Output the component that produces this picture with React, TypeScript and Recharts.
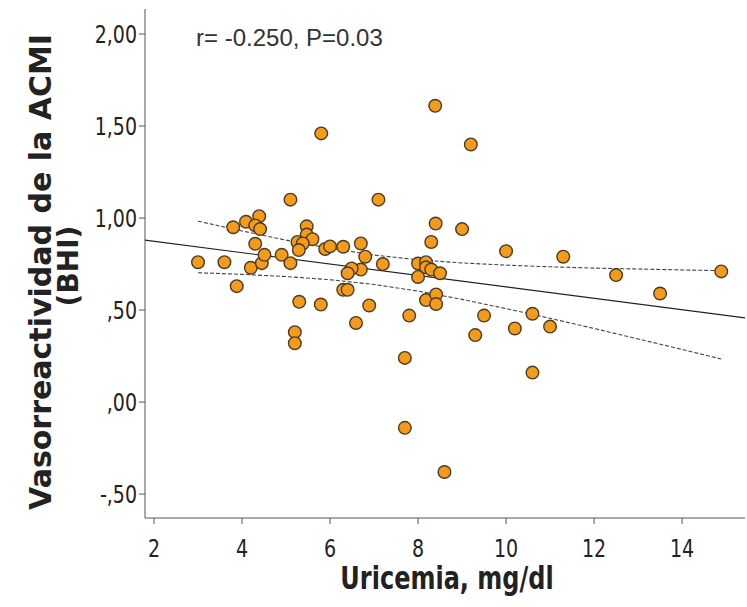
import { ScatterChart, Scatter, XAxis, YAxis } from "recharts";

// Uricemia (mg/dl) vs BHI
const uricemia = [
  3.0, 3.6, 3.88, 3.8, 4.09, 4.39, 4.3, 4.41, 4.3, 4.2, 4.45, 4.51, 4.9, 5.1,
  5.1, 5.47, 5.47, 5.6, 5.26, 5.38, 5.29, 5.3, 5.2, 5.2, 5.8, 5.79, 5.89, 6.0,
  6.3, 6.7, 6.8, 6.7, 6.49, 6.4, 6.3, 6.4, 6.89, 6.59, 7.1, 7.2, 7.8, 7.7, 7.7,
  8.0, 8.0, 8.18, 8.18, 8.3, 8.5, 8.3, 8.4, 8.39, 8.18, 8.41, 8.41, 8.6, 9.0,
  9.2, 9.3, 9.5, 10.0, 10.2, 10.6, 10.6, 11.0, 11.3, 12.5, 13.5, 14.89,
];
const bhi = [
  0.76, 0.76, 0.63, 0.95, 0.98, 1.01, 0.96, 0.94, 0.86, 0.73, 0.755, 0.8, 0.8,
  0.755, 1.1, 0.955, 0.91, 0.885, 0.87, 0.862, 0.826, 0.545, 0.38, 0.32, 1.46,
  0.53, 0.832, 0.846, 0.844, 0.862, 0.79, 0.72, 0.726, 0.7, 0.61, 0.61, 0.525,
  0.43, 1.1, 0.75, 0.47, 0.24, -0.14, 0.753, 0.68, 0.76, 0.732, 0.72, 0.7, 0.87,
  0.97, 1.61, 0.554, 0.585, 0.533, -0.38, 0.94, 1.4, 0.364, 0.47, 0.82, 0.4,
  0.48, 0.16, 0.41, 0.79, 0.69, 0.59, 0.71,
];

// regression line and its 95% band
const fitX = [1.795, 15.43];
const fitY = [0.88, 0.458];
const bandX = [3, 4, 5, 6, 7, 8, 9, 10, 11, 12, 13, 14, 14.89];
const upperBand = [0.983, 0.93, 0.88, 0.835, 0.799, 0.773, 0.756, 0.744, 0.735, 0.728, 0.723, 0.718, 0.714];
const lowerBand = [0.703, 0.694, 0.682, 0.665, 0.639, 0.603, 0.558, 0.508, 0.455, 0.4, 0.343, 0.286, 0.234];

const xTicks = [2, 4, 6, 8, 10, 12, 14];
const yTicks = [-0.5, 0, 0.5, 1, 1.5, 2];

const points = uricemia.map((x, i) => ({ x, y: bhi[i] }));
const fitLine = fitX.map((x, i) => ({ x, y: fitY[i] }));
const upperLine = bandX.map((x, i) => ({ x, y: upperBand[i] }));
const lowerLine = bandX.map((x, i) => ({ x, y: lowerBand[i] }));

const FONT = "'DejaVu Sans', sans-serif";
const STRETCH = 1.3;

const fmtY = (v: number) =>
  v.toFixed(2).replace(".", ",").replace(/^0,/, ",").replace(/^-0,/, "-,");

const XTick = (props: any) => {
  const { x, y, payload } = props;
  return (
    <text
      transform={`translate(${x},${y + 31}) scale(1,${STRETCH})`}
      textAnchor="middle"
      fontFamily={FONT}
      fontSize={19}
      fill="#222"
    >
      {payload.value}
    </text>
  );
};

const YTick = (props: any) => {
  const { x, y, payload } = props;
  return (
    <text
      transform={`translate(${x},${y + 9}) scale(1,${STRETCH})`}
      textAnchor="end"
      fontFamily={FONT}
      fontSize={19}
      fill="#222"
    >
      {fmtY(payload.value)}
    </text>
  );
};

const Dot = (props: any) => {
  const { cx, cy } = props;
  return <circle cx={cx} cy={cy} r={6.3} fill="#F59B1B" stroke="#4a3a24" strokeWidth={1.4} />;
};

const NoDot = () => <g />;

export default function App() {
  return (
    <div style={{ position: "relative", width: 747, height: 607, background: "#fff" }}>
      <style>{`body { margin: 0; }`}</style>
      <ScatterChart width={747} height={607} margin={{ top: 9, right: 2, left: 0, bottom: 0 }}>
        <XAxis
          type="number"
          dataKey="x"
          domain={[1.795, 15.43]}
          allowDataOverflow
          ticks={xTicks}
          height={89}
          stroke="#555"
          tickSize={6}
          tick={<XTick />}
          label={{
            content: () => (
              <text
                transform={`translate(447,589) scale(1,${STRETCH})`}
                textAnchor="middle"
                fontFamily={FONT}
                fontWeight="bold"
                fontSize={24}
                fill="#222"
              >
                Uricemia, mg/dl
              </text>
            ),
          }}
        />
        <YAxis
          type="number"
          dataKey="y"
          domain={[-0.63, 2.136]}
          allowDataOverflow
          ticks={yTicks}
          width={145}
          stroke="#555"
          tickSize={6}
          tick={<YTick />}
          label={{
            content: () => (
              <g fontFamily={FONT} fontWeight="bold" fill="#222">
                <text
                  transform="translate(51,272) rotate(-90)"
                  textAnchor="middle"
                  fontSize={30}
                >
                  Vasorreactividad de la ACMI
                </text>
                <text
                  transform="translate(78,266) rotate(-90)"
                  textAnchor="middle"
                  fontSize={28}
                >
                  (BHI)
                </text>
              </g>
            ),
          }}
        />
        <Scatter
          data={fitLine}
          line={{ stroke: "#222", strokeWidth: 1.2 }}
          lineType="joint"
          shape={<NoDot />}
          isAnimationActive={false}
        />
        <Scatter
          data={upperLine}
          line={{ stroke: "#444", strokeWidth: 1.1, strokeDasharray: "4 2" }}
          lineType="joint"
          shape={<NoDot />}
          isAnimationActive={false}
        />
        <Scatter
          data={lowerLine}
          line={{ stroke: "#444", strokeWidth: 1.1, strokeDasharray: "4 2" }}
          lineType="joint"
          shape={<NoDot />}
          isAnimationActive={false}
        />
        <Scatter data={points} shape={<Dot />} isAnimationActive={false} />
      </ScatterChart>
      <div
        style={{
          position: "absolute",
          left: 196,
          top: 25,
          fontFamily: "'Liberation Sans', Arial, sans-serif",
          fontSize: 24,
          lineHeight: "26px",
          color: "#333",
          whiteSpace: "nowrap",
        }}
      >
        r= -0.250, P=0.03
      </div>
    </div>
  );
}
